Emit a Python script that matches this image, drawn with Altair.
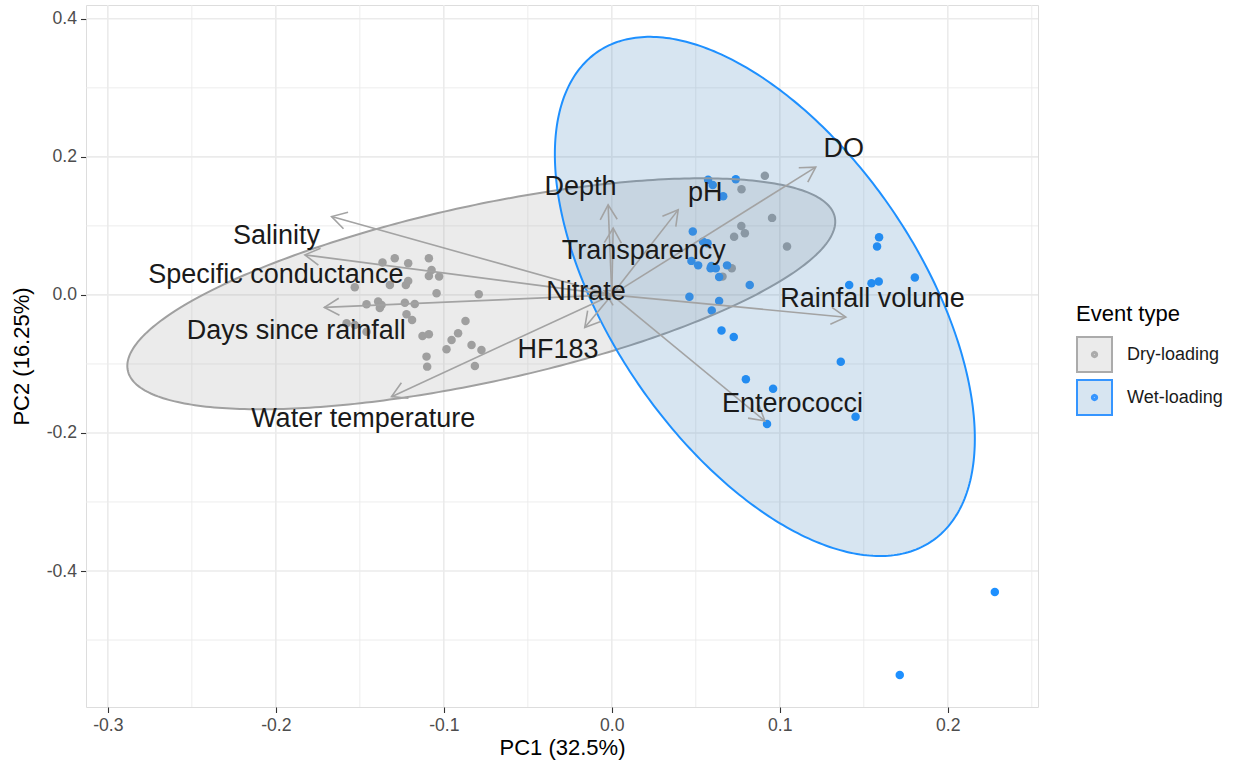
import math
import numpy as np
import pandas as pd
import altair as alt

# ---------------- data ----------------
dry_pc1 = [-0.1365, -0.1292, -0.1212, -0.1089, -0.1530, -0.1321, -0.1226, -0.1212, -0.1089, -0.1028,
           -0.1073, -0.1043, -0.0792, -0.1460, -0.1391, -0.1371, -0.1381, -0.1232, -0.1173, -0.1222,
           -0.1189, -0.1579, -0.1530, -0.1460, -0.1127, -0.1089, -0.0871, -0.0915, -0.0954, -0.0984,
           -0.0835, -0.0776, -0.0815, -0.1103, -0.1099, 0.0911, 0.0772, 0.0954, 0.0771, 0.0792,
           0.0728, 0.1043, 0.0714, 0.0659]
dry_pc2 = [0.0468, 0.0532, 0.0459, 0.0532, 0.0112, 0.0145, 0.0145, 0.0203, 0.0275, 0.0265,
           0.0362, 0.0025, 0.0010, -0.0135, -0.0097, -0.0145, -0.0188, -0.0112, -0.0130, -0.0280,
           -0.0362, -0.0410, -0.0435, -0.0532, -0.0594, -0.0570, -0.0377, -0.0555, -0.0652, -0.0787,
           -0.0725, -0.0797, -0.1029, -0.0894, -0.1039, 0.1725, 0.1532, 0.1116, 0.1000, 0.0894,
           0.0841, 0.0700, 0.0387, 0.0265]
wet_pc1 = [0.0573, 0.0738, 0.0601, 0.0663, 0.0482, 0.0543, 0.0570, 0.0474, 0.0514, 0.0593,
           0.0588, 0.0619, 0.0686, 0.0639, 0.0821, 0.0462, 0.0639, 0.0595, 0.0653, 0.0726,
           0.1591, 0.1579, 0.1413, 0.1546, 0.1589, 0.1804, 0.1363, 0.0798, 0.0960, 0.0924,
           0.1451, 0.2280, 0.1714]
wet_pc2 = [0.1667, 0.1677, 0.1594, 0.1430, 0.0917, 0.0772, 0.0749, 0.0493, 0.0428, 0.0420,
           0.0387, 0.0387, 0.0428, 0.0261, 0.0145, -0.0025, -0.0087, -0.0225, -0.0514, -0.0609,
           0.0836, 0.0700, 0.0145, 0.0170, 0.0193, 0.0251, -0.0967, -0.1222, -0.1358, -0.1870,
           -0.1764, -0.4304, -0.5507]

var_names = ["Salinity", "Specific conductance", "Days since rainfall", "Water temperature",
             "HF183", "Nitrate", "Depth", "Transparency", "pH", "DO", "Rainfall volume", "Enterococci"]
load_pc1 = [-0.1668, -0.1827, -0.1711, -0.1311, -0.0161, -0.0045, -0.0022, 0.0008, 0.0395, 0.1214, 0.1393, 0.0911]
load_pc2 = [0.1135, 0.0580, -0.0181, -0.1474, -0.0471, 0.0060, 0.1304, 0.0967, 0.1232, 0.1851, -0.0323, -0.1826]
label_pc1 = [-0.1996, -0.2000, -0.1878, -0.1480, -0.0320, -0.0153, -0.0186, 0.0190, 0.0556, 0.1381, 0.1552, 0.1076]
label_pc2 = [0.0735, 0.0170, -0.0642, -0.1909, -0.0917, -0.0072, 0.1449, 0.0522, 0.1367, 0.1996, -0.0178, -0.1700]

group_names = ["Dry-loading", "Wet-loading"]
ell_c1 = [-0.0777, 0.0911]
ell_c2 = [0.0016, -0.0022]
ell_sxx = [0.044396, 0.015625]
ell_syy = [0.028000, 0.14144]
ell_sxy = [0.022019, -0.025745]

x_major = [-0.3, -0.2, -0.1, 0.0, 0.1, 0.2]
x_minor = [-0.25, -0.15, -0.05, 0.05, 0.15, 0.25]
y_major = [-0.4, -0.2, 0.0, 0.2, 0.4]
y_minor = [-0.5, -0.3, -0.1, 0.1, 0.3]

W, H = 952, 702
XDOM = [-0.313, 0.2537]
YDOM = [-0.597, 0.420]
FONT = "Liberation Sans"
point_colors = ["#A0A0A0", "#1E90FF"]
fill_colors = ["#999999", "#377EB8"]
line_colors = ["#A0A0A0", "#1E90FF"]
key_fill_colors = ["#EBEBEB", "#D7E5F1"]
key_stroke_colors = ["#ABABAB", "#3595FF"]
arrow_color = "#A3A3A3"

xscale = alt.Scale(domain=XDOM, nice=False, zero=False)
yscale = alt.Scale(domain=YDOM, nice=False, zero=False)
lab_expr = "replace(format(datum.value, '.1f'), '\u2212', '-')"
common_axis = dict(grid=False, domain=False, ticks=True, tickSize=5.5, tickWidth=1.1,
                   tickColor="#333333", labelFontSize=17.6, labelColor="#4D4D4D", labelPadding=4,
                   labelFont=FONT, titleFont=FONT, titleFontSize=22, titleFontWeight="normal",
                   titleColor="#000000", labelExpr=lab_expr, labelOverlap=False, labelFlush=False)
xaxis = alt.Axis(values=x_major, title="PC1 (32.5%)", titlePadding=3, **common_axis)
yaxis = alt.Axis(values=y_major, title="PC2 (16.25%)", titlePadding=13, **common_axis)


def X(f):
    return alt.X(f, type="quantitative", scale=xscale, axis=xaxis)


def Y(f):
    return alt.Y(f, type="quantitative", scale=yscale, axis=yaxis)


layers = []
for vals, sw in ((x_minor, 0.9), (x_major, 1.6)):
    layers.append(alt.Chart(pd.DataFrame({"v": vals})).mark_rule(color="#EBEBEB", strokeWidth=sw).encode(x=X("v")))
for vals, sw in ((y_minor, 0.9), (y_major, 1.6)):
    layers.append(alt.Chart(pd.DataFrame({"v": vals})).mark_rule(color="#EBEBEB", strokeWidth=sw).encode(y=Y("v")))

# points, one layer per event type
for xs, ys, pc in ((dry_pc1, dry_pc2, point_colors[0]), (wet_pc1, wet_pc2, point_colors[1])):
    layers.append(alt.Chart(pd.DataFrame({"pc1": xs, "pc2": ys})).mark_circle(
        size=72, opacity=1, color=pc).encode(x=X("pc1"), y=Y("pc2")))

# ellipses
for g, cx, cy, sxx, syy, sxy, fc, lc in zip(group_names, ell_c1, ell_c2, ell_sxx, ell_syy, ell_sxy,
                                             fill_colors, line_colors):
    S = np.array([[sxx, sxy], [sxy, syy]])
    Si = np.linalg.inv(S)
    A, B, C = Si[0, 0], Si[0, 1], Si[1, 1]
    s = np.linspace(0, np.pi, 301)
    dx = math.sqrt(sxx) * np.cos(s)
    disc = np.clip(B * B * dx * dx - C * (A * dx * dx - 1), 0, None)
    lo = (-B * dx - np.sqrt(disc)) / C
    hi = (-B * dx + np.sqrt(disc)) / C
    area_df = pd.DataFrame({"x": cx + dx, "ylo": cy + lo, "yhi": cy + hi})
    Lc = np.linalg.cholesky(S)
    t = np.linspace(0, 2 * np.pi, 361)
    p = Lc @ np.vstack([np.cos(t), np.sin(t)])
    line_df = pd.DataFrame({"i": np.arange(len(t)), "x": cx + p[0], "y": cy + p[1]})
    layers.append(alt.Chart(area_df).mark_area(color=fc, fillOpacity=0.2, strokeWidth=0).encode(
        x=X("x"), y=Y("ylo"), y2="yhi"))
    layers.append(alt.Chart(line_df).mark_line(color=lc, strokeWidth=2).encode(
        x=X("x"), y=Y("y"), order="i:Q"))

# arrows
kx = W / (XDOM[1] - XDOM[0])
ky = H / (YDOM[1] - YDOM[0])
angles = [(math.degrees(math.atan2(a * kx, b * ky)) + 360) % 360 for a, b in zip(load_pc1, load_pc2)]
arr = pd.DataFrame({"var": var_names, "x0": 0.0, "y0": 0.0, "x": load_pc1, "y": load_pc2, "ang": angles})
layers.append(alt.Chart(arr).mark_rule(color=arrow_color, strokeWidth=1.6).encode(
    x=X("x0"), y=Y("y0"), x2="x", y2="y"))
ARROW_PATH = "M-0.5,0.866L0,0L0.5,0.866"
layers.append(alt.Chart(arr).mark_point(shape=ARROW_PATH, filled=False, size=1156, strokeWidth=1.6,
                                        color=arrow_color, opacity=1).encode(
    x=X("x"), y=Y("y"), angle=alt.Angle("ang:Q", scale=None)))

# labels
labs = pd.DataFrame({"var": var_names, "x": label_pc1, "y": label_pc2})
layers.append(alt.Chart(labs).mark_text(align="center", baseline="alphabetic", fontSize=27, font=FONT,
                                        color="#1A1A1A").encode(x=X("x"), y=Y("y"), text="var:N"))


# legend carrier: zero-size symbols, only the legend (key box + dot) is visible
def ring(r, n=16):
    return "M" + "L".join(f"{r*math.cos(2*math.pi*k/n):.4f},{r*math.sin(2*math.pi*k/n):.4f}" for k in range(n)) + "Z"


LEG_PATH = "M-1,-1L1,-1L1,1L-1,1Z " + ring(0.15) + " " + ring(0.08)
legend = alt.Legend(
    title="Event type", orient="none", legendX=990, legendY=299,
    symbolType=LEG_PATH, symbolSize=1225, symbolStrokeWidth=2,
    titleFont=FONT, titleFontSize=22, titleFontWeight="normal", titleColor="#000000", titlePadding=10,
    labelFont=FONT, labelFontSize=18, labelColor="#1A1A1A", labelOffset=14, rowPadding=0,
)
key_df = pd.DataFrame({"Event type": group_names, "kx": [0.0, 0.0], "ky": [0.0, 0.0]})
layers.append(alt.Chart(key_df).mark_point(shape="square", filled=True, size=0, opacity=1).encode(
    x=X("kx"), y=Y("ky"),
    color=alt.Color("Event type:N", scale=alt.Scale(domain=group_names, range=key_fill_colors), legend=legend),
    stroke=alt.Stroke("Event type:N", scale=alt.Scale(domain=group_names, range=key_stroke_colors), legend=legend),
))

chart = alt.layer(*layers).properties(
    width=W, height=H,
    padding={"left": 86, "top": 5, "right": 201, "bottom": 60},
    autosize=alt.AutoSizeParams(type="none"),
    background="white",
).configure_view(stroke="#333333", strokeWidth=1.1).configure(font=FONT)

chart.save("out.html", embed_options={"renderer": "svg", "actions": False})
